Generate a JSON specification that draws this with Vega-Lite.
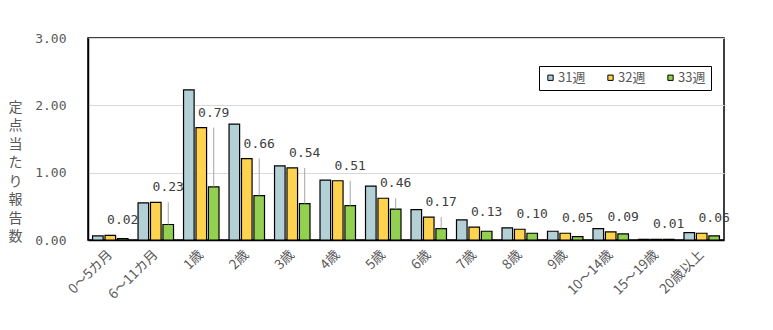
{
  "$schema": "https://vega.github.io/schema/vega-lite/v6.json",
  "width": 636,
  "height": 202,
  "autosize": {"type": "none"},
  "padding": {"left": 88, "top": 38, "right": 49, "bottom": 90},
  "background": "white",
  "config": {
    "view": {"stroke": "black", "strokeWidth": 1.5},
    "axis": {"labelColor": "#595959", "titleColor": "#595959", "ticks": false, "domainColor": "black", "domainWidth": 1.5}
  },
  "data": {
    "values": [
      {"age": "0～5カ月", "series": "31週", "value": 0.06},
      {"age": "0～5カ月", "series": "32週", "value": 0.07},
      {"age": "0～5カ月", "series": "33週", "value": 0.02},
      {"age": "6～11カ月", "series": "31週", "value": 0.55},
      {"age": "6～11カ月", "series": "32週", "value": 0.56},
      {"age": "6～11カ月", "series": "33週", "value": 0.23},
      {"age": "1歳", "series": "31週", "value": 2.23},
      {"age": "1歳", "series": "32週", "value": 1.67},
      {"age": "1歳", "series": "33週", "value": 0.79},
      {"age": "2歳", "series": "31週", "value": 1.72},
      {"age": "2歳", "series": "32週", "value": 1.21},
      {"age": "2歳", "series": "33週", "value": 0.66},
      {"age": "3歳", "series": "31週", "value": 1.10},
      {"age": "3歳", "series": "32週", "value": 1.07},
      {"age": "3歳", "series": "33週", "value": 0.54},
      {"age": "4歳", "series": "31週", "value": 0.89},
      {"age": "4歳", "series": "32週", "value": 0.88},
      {"age": "4歳", "series": "33週", "value": 0.51},
      {"age": "5歳", "series": "31週", "value": 0.80},
      {"age": "5歳", "series": "32週", "value": 0.62},
      {"age": "5歳", "series": "33週", "value": 0.46},
      {"age": "6歳", "series": "31週", "value": 0.45},
      {"age": "6歳", "series": "32週", "value": 0.34},
      {"age": "6歳", "series": "33週", "value": 0.17},
      {"age": "7歳", "series": "31週", "value": 0.30},
      {"age": "7歳", "series": "32週", "value": 0.19},
      {"age": "7歳", "series": "33週", "value": 0.13},
      {"age": "8歳", "series": "31週", "value": 0.18},
      {"age": "8歳", "series": "32週", "value": 0.16},
      {"age": "8歳", "series": "33週", "value": 0.10},
      {"age": "9歳", "series": "31週", "value": 0.13},
      {"age": "9歳", "series": "32週", "value": 0.10},
      {"age": "9歳", "series": "33週", "value": 0.05},
      {"age": "10～14歳", "series": "31週", "value": 0.17},
      {"age": "10～14歳", "series": "32週", "value": 0.12},
      {"age": "10～14歳", "series": "33週", "value": 0.09},
      {"age": "15～19歳", "series": "31週", "value": 0.01},
      {"age": "15～19歳", "series": "32週", "value": 0.01},
      {"age": "15～19歳", "series": "33週", "value": 0.01},
      {"age": "20歳以上", "series": "31週", "value": 0.11},
      {"age": "20歳以上", "series": "32週", "value": 0.10},
      {"age": "20歳以上", "series": "33週", "value": 0.06}
    ]
  },
  "layer": [
    {
      "mark": {"type": "bar", "stroke": "black", "strokeWidth": 1.2},
      "encoding": {
        "x": {
          "field": "age", "type": "nominal",
          "sort": ["0～5カ月","6～11カ月","1歳","2歳","3歳","4歳","5歳","6歳","7歳","8歳","9歳","10～14歳","15～19歳","20歳以上"],
          "scale": {"paddingInner": 0.22, "paddingOuter": 0.1},
          "axis": {"title": null, "labelAngle": -45, "labelAlign": "right", "labelBaseline": "middle", "labelPadding": 12, "labelFont": "Noto Sans CJK JP", "labelFontSize": 13.5, "grid": false}
        },
        "xOffset": {"field": "series", "type": "nominal", "scale": {"paddingInner": 0.15}},
        "y": {
          "field": "value", "type": "quantitative",
          "scale": {"domain": [0, 3], "nice": false},
          "axis": {
            "values": [0, 1, 2, 3], "format": ".2f", "grid": true, "gridColor": "#d9d9d9", "gridWidth": 1,
            "labelFont": "DejaVu Sans Mono", "labelFontSize": 13, "labelPadding": 22,
            "title": ["定","点","当","た","り","報","告","数"],
            "titleAngle": 0, "titleAlign": "center", "titleBaseline": "top", "titleX": -73, "titleY": 62,
            "titleFont": "Noto Sans CJK JP", "titleFontSize": 14, "titleFontWeight": "normal", "titleLineHeight": 18.5
          }
        },
        "color": {
          "field": "series", "type": "nominal",
          "scale": {"domain": ["31週","32週","33週"], "range": ["#b3d0d6", "#ffd34d", "#92d050"]},
          "legend": {
            "title": null, "orient": "none", "legendX": 451, "legendY": 28, "direction": "horizontal",
            "strokeColor": "black", "fillColor": "white", "padding": 5,
            "symbolType": "square", "symbolSize": 28, "symbolStrokeColor": "black", "symbolStrokeWidth": 1,
            "labelFont": "Noto Sans CJK JP", "labelFontSize": 13, "labelColor": "#595959", "labelOffset": 1,
            "columnPadding": 18
          }
        }
      }
    },
    {
      "transform": [
        {"pivot": "series", "value": "value", "groupby": ["age"]},
        {"filter": "datum['32週'] - datum['33週'] > 0.1"}
      ],
      "mark": {"type": "rule", "color": "#a6a6a6", "strokeWidth": 1},
      "encoding": {
        "x": {"field": "age", "type": "nominal", "sort": ["0～5カ月","6～11カ月","1歳","2歳","3歳","4歳","5歳","6歳","7歳","8歳","9歳","10～14歳","15～19歳","20歳以上"]},
        "xOffset": {"datum": "33週"},
        "y": {"field": "33週", "type": "quantitative"},
        "y2": {"field": "32週"}
      }
    },
    {
      "transform": [
        {"pivot": "series", "value": "value", "groupby": ["age"]}
      ],
      "mark": {"type": "text", "baseline": "bottom", "dy": -8, "font": "DejaVu Sans Mono", "fontSize": 13, "color": "#404040"},
      "encoding": {
        "x": {"field": "age", "type": "nominal", "sort": ["0～5カ月","6～11カ月","1歳","2歳","3歳","4歳","5歳","6歳","7歳","8歳","9歳","10～14歳","15～19歳","20歳以上"]},
        "xOffset": {"datum": "33週"},
        "y": {"field": "32週", "type": "quantitative"},
        "text": {"field": "33週", "type": "quantitative", "format": ".2f"}
      }
    }
  ]
}
